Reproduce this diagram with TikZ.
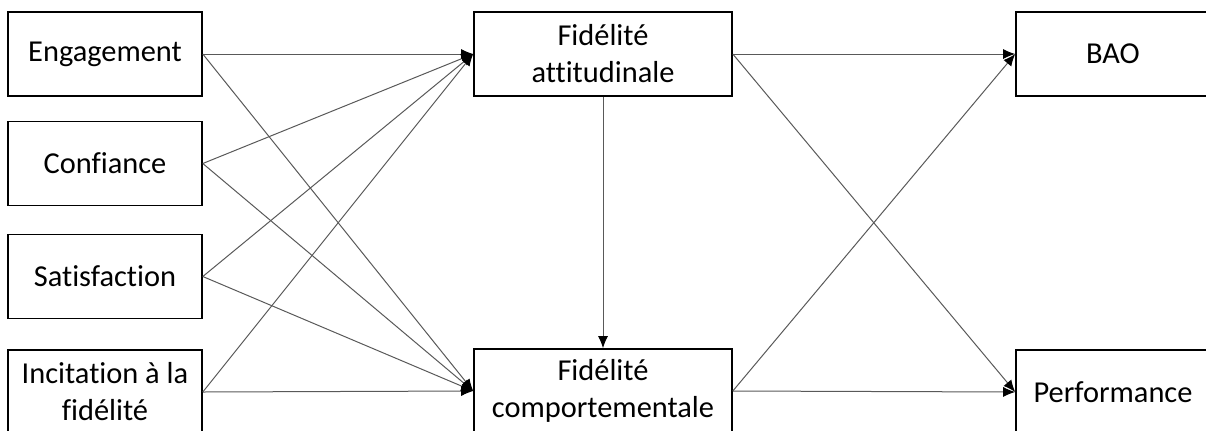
\documentclass[tikz,border=0pt]{standalone}
\usepackage{fontspec}
\setmainfont{Carlito}[Ligatures=NoCommon]
\usetikzlibrary{arrows.meta,positioning}

\begin{document}
\begin{tikzpicture}[x=0.5pt,y=-0.5pt,
  box/.style={draw,line width=0.8pt,minimum width=97pt,minimum height=42pt,inner sep=0pt,align=center,font=\fontsize{15.2}{18.5}\selectfont},
  widebox/.style={box,minimum width=129pt},
  link/.style={gray!70!black,line width=0.5pt,-{Latex[length=6pt,width=5pt,color=black]}}]
 	\useasboundingbox (0,0) rectangle (1206,430);
 	\clip (0,0) rectangle (1206,430);
 	\node[box] (eng) at (105,54) {Engagement};
 	\node[box] (conf) at (105,163.5) {Confiance};
 	\node[box] (sat) at (105,276.5) {Satisfaction};
 	\node[box] (inc) at (105,392) {Incitation à la\\fidélité};
 	\node[widebox] (fatt) at (603,54) {Fidélité\\attitudinale};
 	\node[widebox] (fcomp) at (603,391) {Fidélité\\comportementale};
 	\node[box] (bao) at (1113,54) {BAO};
 	\node[box] (perf) at (1113,392) {Performance};
 	\draw[link] (eng.east) -- (fatt.west);
 	\draw[link] (eng.east) -- (fcomp.west);
 	\draw[link] (conf.east) -- (fatt.west);
 	\draw[link] (conf.east) -- (fcomp.west);
 	\draw[link] (sat.east) -- (fatt.west);
 	\draw[link] (sat.east) -- (fcomp.west);
 	\draw[link] (inc.east) -- (fatt.west);
 	\draw[link] (inc.east) -- (fcomp.west);
 	\draw[link] (fatt.south) -- (fcomp.north);
 	\draw[link] (fatt.east) -- (bao.west);
 	\draw[link] (fatt.east) -- (perf.west);
 	\draw[link] (fcomp.east) -- (bao.west);
 	\draw[link] (fcomp.east) -- (perf.west);
\end{tikzpicture}
\end{document}
